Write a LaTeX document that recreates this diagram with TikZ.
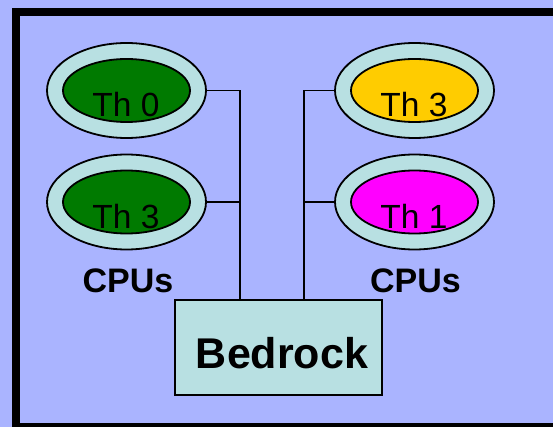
\documentclass[tikz,border=0pt]{standalone}
\usepackage{fontspec}
\setmainfont{Liberation Sans}
\usetikzlibrary{shapes.geometric,calc}
\definecolor{bgc}{RGB}{170,180,255}
\definecolor{ringc}{RGB}{184,224,226}
\definecolor{thgreen}{RGB}{0,122,0}
\definecolor{thyellow}{RGB}{255,204,0}
\definecolor{thmag}{RGB}{255,0,255}
\tikzset{
  ring/.style={ellipse, draw=black, line width=1.8pt, fill=ringc, minimum width=159pt, minimum height=95pt, inner sep=0pt, outer sep=0pt},
  core/.style={ellipse, draw=black, line width=1.8pt, minimum width=127pt, minimum height=63pt, inner sep=0pt, outer sep=0pt},
  thtext/.style={anchor=base, inner sep=0pt, font=\fontsize{33.5}{36}\selectfont},
  cputext/.style={anchor=base, inner sep=0pt, font=\fontsize{34}{36}\selectfont\bfseries},
  wire/.style={draw=black, line width=1.8pt},
  bedbox/.style={draw=black, line width=1.8pt, fill=ringc, minimum width=207pt, minimum height=95pt, inner sep=0pt, outer sep=0pt}
}
\begin{document}
\begin{tikzpicture}[x=1pt,y=-1pt]
\useasboundingbox (0,0) rectangle (553,427);
\clip (0,0) rectangle (553,427);
\fill[bgc] (0,0) rectangle (553,427);
\draw[line width=8pt] (15.5,12) rectangle (620,427);
% bedrock
\node[bedbox] (bed) at (278.5,347.5) {};
\node[anchor=base, inner sep=0pt, font=\fontsize{43}{46}\selectfont\bfseries] (bedtxt) at (282,368) {Bedrock};
% left CPUs
\node[ring] (l0) at (126.5,90.5) {};
\node[core, fill=thgreen] (l0c) at (126.5,90.5) {};
\node[thtext] (l0t) at (126,117) {Th 0};
\node[ring] (l1) at (126.5,202) {};
\node[core, fill=thgreen] (l1c) at (126.5,202) {};
\node[thtext] (l1t) at (126,229) {Th 3};
\node[cputext] (lcpu) at (128,292.5) {CPUs};
% right CPUs
\node[ring] (r0) at (414.5,90.5) {};
\node[core, fill=thyellow] (r0c) at (414.5,90.5) {};
\node[thtext] (r0t) at (414,117) {Th 3};
\node[ring] (r1) at (414.5,202) {};
\node[core, fill=thmag] (r1c) at (414.5,202) {};
\node[thtext] (r1t) at (414,229) {Th 1};
\node[cputext] (rcpu) at (415.5,292.5) {CPUs};
% wires
\coordinate (bl) at ($(bed.north west)+(65,0)$);
\coordinate (br) at ($(bed.north west)+(129,0)$);
\draw[wire] (l0.east) -| (bl);
\draw[wire] (l1.east) -- (l1.east -| bl);
\draw[wire] (r0.west) -| (br);
\draw[wire] (r1.west) -- (r1.west -| br);
\end{tikzpicture}
\end{document}
